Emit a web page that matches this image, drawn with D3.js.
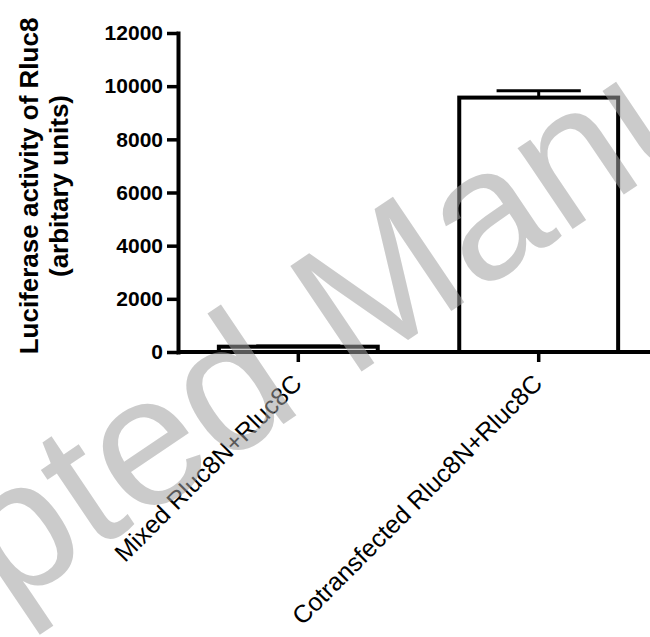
<!DOCTYPE html>
<html>
<head>
<meta charset="utf-8">
<script src="https://cdn.jsdelivr.net/npm/d3@7"></script>
<style>
  html, body { margin: 0; padding: 0; background: #fff; }
  svg { display: block; }
</style>
</head>
<body>
<svg id="chart" width="650" height="637"></svg>
<script>
// ---- data ----
const categories = ["Mixed Rluc8N+Rluc8C", "Cotransfected Rluc8N+Rluc8C"];
const means = [200, 9570];
const errors = [30, 260];
const yTicks = [0, 2000, 4000, 6000, 8000, 10000, 12000];
const yTitle = ["Luciferase activity of Rluc8", "(arbitary units)"];
const watermark = "Accepted Manuscript";

const svg = d3.select("#chart");
const FONT = "'Liberation Sans', Arial, Helvetica, sans-serif";

const y = d3.scaleLinear().domain([0, 12000]).range([352, 33]);
const x = d3.scaleBand().domain(categories).range([178, 659])
  .paddingInner(0.339).paddingOuter(0.17);

const bars = categories.map((c, i) => ({ c, m: means[i], e: errors[i] }));

// bars
svg.append("g").selectAll("rect").data(bars).join("rect")
  .attr("x", d => x(d.c))
  .attr("y", d => y(d.m))
  .attr("width", x.bandwidth())
  .attr("height", d => y(0) - y(d.m))
  .attr("fill", "#fff")
  .attr("stroke", "#000")
  .attr("stroke-width", 4);

// error bars
const eb = svg.append("g").attr("stroke", "#000").attr("stroke-width", 3);
eb.selectAll("line.stem").data(bars).join("line").attr("class", "stem")
  .attr("x1", d => x(d.c) + x.bandwidth() / 2)
  .attr("x2", d => x(d.c) + x.bandwidth() / 2)
  .attr("y1", d => y(d.m))
  .attr("y2", d => y(d.m + d.e));
eb.selectAll("line.cap").data(bars).join("line").attr("class", "cap")
  .attr("x1", d => x(d.c) + x.bandwidth() * 0.235)
  .attr("x2", d => x(d.c) + x.bandwidth() * 0.765)
  .attr("y1", d => y(d.m + d.e))
  .attr("y2", d => y(d.m + d.e));

// y axis
const yAxis = svg.append("g")
  .attr("transform", `translate(${x.range()[0]},0)`)
  .call(d3.axisLeft(y).tickValues(yTicks).tickFormat(d3.format("d"))
    .tickSize(11).tickPadding(4).tickSizeOuter(0));
yAxis.select(".domain").attr("stroke-width", 4).attr("stroke-linecap", "square");
yAxis.selectAll(".tick line").attr("stroke-width", 3.5);
yAxis.selectAll(".tick text")
  .attr("font-family", FONT).attr("font-size", 21).attr("font-weight", "bold")
  .attr("fill", "#000");

// x axis
const xAxis = svg.append("g")
  .attr("transform", `translate(0,${y(0)})`)
  .call(d3.axisBottom(x).tickSize(10).tickSizeOuter(0).tickFormat(""));
xAxis.select(".domain").attr("stroke-width", 4)
  .attr("d", `M${x.range()[0]},0H650`);
xAxis.selectAll(".tick line").attr("stroke-width", 3.5);

// x labels rotated
svg.append("g").selectAll("text").data(categories).join("text")
  .attr("transform", d => `translate(${x(d) + x.bandwidth() / 2 + 5},385) rotate(-45)`)
  .attr("text-anchor", "end")
  .attr("font-family", FONT).attr("font-size", 25)
  .attr("fill", "#000")
  .text(d => d);

// y title
const titleG = svg.append("g").attr("transform", "translate(0,186) rotate(-90)");
titleG.selectAll("text").data(yTitle).join("text")
  .attr("x", 0)
  .attr("y", (d, i) => 38 + i * 30)
  .attr("text-anchor", "middle")
  .attr("font-family", FONT).attr("font-size", 26).attr("font-weight", "bold")
  .attr("fill", "#000")
  .text(d => d);

// watermark overlay
svg.append("text")
  .attr("transform", "translate(383,357) rotate(-34)")
  .attr("text-anchor", "middle")
  .attr("font-family", FONT).attr("font-size", 185)
  .attr("fill", "rgb(160,160,160)").attr("fill-opacity", 0.55)
  .text(watermark);
</script>
</body>
</html>
